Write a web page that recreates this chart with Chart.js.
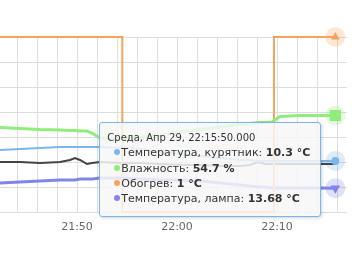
<!DOCTYPE html>
<html>
<head>
<meta charset="utf-8">
<script src="https://cdn.jsdelivr.net/npm/chart.js@4/dist/chart.umd.min.js"></script>
<style>
    html, body { margin: 0; padding: 0; background: #fff; }
    #wrap { position: relative; width: 357px; height: 274px; }
    #tip {
        position: absolute; pointer-events: none; white-space: nowrap;
        background: rgba(247, 247, 247, 0.85); border: 1px solid #7cb5ec; border-radius: 3px;
        box-shadow: 1px 1px 3px rgba(0, 0, 0, 0.18);
        padding: 7px 10px 9px 7px; font-family: 'DejaVu Sans', sans-serif; color: #333;
    }
    #tip .head { font-size: 10px; line-height: 15px; }
    #tip .row { font-size: 11px; line-height: 15.3px; }
    #tip .dot { display: inline-block; width: 6px; height: 6px; border-radius: 50%; margin: 0 1px 0 7px; vertical-align: 1px; }
</style>
</head>
<body>
<div id="wrap">
    <canvas id="grafico" width="357" height="274"></canvas>
    <div id="tip"></div>
</div>
<script>
// Datos
const dateLabel = 'Среда, Апр 29';
const times = ['21:42:10', '21:44:18', '21:46:18', '21:48:18', '21:49:18', '21:49:48', '21:50:18', '21:51:00', '21:51:30',
    '21:52:18', '21:54:30', '21:56:18', '21:58:18', '22:00:18', '22:02:18', '22:04:18', '22:06:18', '22:07:18',
    '22:08:06', '22:08:48', '22:09:30', '22:10:00', '22:10:18', '22:12:18', '22:14:18', '22:15:50'];
const tempCoop = [11.4, 11.5, 11.6, 11.7, 11.7, 11.7, 11.7, 11.7, 11.7, 11.7, 11.6, 11.5, 11.2, 11.0, 10.8, 10.6, 10.4,
    10.4, 10.3, 10.3, 10.3, 10.3, 10.3, 10.3, 10.3, 10.3];
const humidity = [52.3, 52.1, 51.9, 51.8, 51.7, 51.7, 51.6, 51.6, 51.2, 50.2, 50.1, 50.4, 50.8, 51.4, 51.9, 52.4, 52.9,
    53.1, 53.3, 53.3, 53.4, 54.1, 54.5, 54.7, 54.7, 54.7];
const tempLamp = [14.2, 14.3, 14.4, 14.5, 14.5, 14.5, 14.6, 14.6, 14.6, 14.7, 14.7, 14.6, 14.5, 14.5, 14.4, 14.2, 14.0,
    13.9, 13.8, 13.8, 13.7, 13.7, 13.7, 13.7, 13.7, 13.68];
const tempOut = [10.2, 10.2, 10.1, 10.2, 10.4, 10.6, 10.4, 10.0, 10.1, 10.2, 10.1, 10.1, 10.0, 9.9, 9.9, 9.8, 9.8,
    9.9, 10.2, 10.0, 10.0, 10.0, 10.0, 10.0, 10.0, 10.0];
const heatTimes = ['21:42:10', '21:54:32', '22:09:42', '22:15:50'];
const heating = [1, 0, 1, 1];
const xTickLabels = ['21:50', '22:00', '22:10'];

const toMin = t => { const p = t.split(':').map(Number); return p[0] * 60 + p[1] + (p[2] || 0) / 60; };
const pad = n => String(n).padStart(2, '0');
function fmtTime(v, withSec) {
    const s = Math.round(v * 60);
    const txt = pad(Math.floor(s / 3600)) + ':' + pad(Math.floor(s / 60) % 60);
    return withSec ? txt + ':' + pad(s % 60) : txt;
}
const serie = (ts, vals) => vals.map((y, i) => ({ x: toMin(ts[i]), y }));
const lastOnly = r => ctx => ctx.dataIndex === ctx.dataset.data.length - 1 ? r : 0;

const units = ['°C', '%', '°C', '°C', '°C'];

// halo de los puntos activos
const haloPlugin = {
    id: 'halo',
    beforeDatasetsDraw(chart) {
        const ctx = chart.ctx;
        chart.data.datasets.forEach((ds, i) => {
            if (!ds.halo) return;
            const meta = chart.getDatasetMeta(i);
            const pt = meta.data[meta.data.length - 1];
            ctx.save();
            ctx.globalAlpha = 0.25;
            ctx.fillStyle = ds.borderColor;
            ctx.beginPath();
            ctx.arc(pt.x, pt.y, 10, 0, Math.PI * 2);
            ctx.fill();
            ctx.restore();
        });
    }
};

function tooltipHtml(context) {
    const tip = context.tooltip;
    const el = document.getElementById('tip');
    if (!tip.dataPoints || !tip.dataPoints.length) { el.style.opacity = 0; return; }
    const pts = tip.dataPoints;
    el.innerHTML = `<div class="head">${dateLabel}, ${fmtTime(pts[0].parsed.x, true)}.000</div>` +
        pts.map(p => `<div class="row"><span class="dot" style="background:${p.dataset.borderColor}"></span>${p.dataset.label}: <b>${p.raw.y} ${units[p.datasetIndex]}</b></div>`).join('');
    const x = Math.max(...pts.map(p => p.element.x));
    const y = pts.reduce((a, p) => a + p.element.y, 0) / pts.length;
    el.style.opacity = 1;
    el.style.left = (x - 14 - el.offsetWidth) + 'px';
    el.style.top = (y - 3) + 'px';
}

Chart.defaults.font.family = "'DejaVu Sans', sans-serif";
Chart.defaults.font.size = 11;
Chart.defaults.color = '#666';

const hidden = (min, max) => ({ display: false, min, max });

const chart = new Chart(document.getElementById('grafico'), {
    type: 'line',
    data: {
        datasets: [
            { label: 'Температура, курятник', data: serie(times, tempCoop), yAxisID: 'yT', borderColor: '#7cb5ec', backgroundColor: '#7cb5ec',
              borderWidth: 2, pointStyle: 'circle', pointRadius: lastOnly(3), halo: true },
            { label: 'Влажность', data: serie(times, humidity), yAxisID: 'yH', borderColor: '#90ed7d', backgroundColor: '#90ed7d',
              borderWidth: 3, pointStyle: 'rect', pointRadius: lastOnly(5.8), halo: true },
            { label: 'Обогрев', data: serie(heatTimes, heating), yAxisID: 'yO', borderColor: '#f7a35c', backgroundColor: '#f7a35c',
              borderWidth: 2, stepped: 'before', pointStyle: 'triangle', pointRadius: lastOnly(3), halo: true },
            { label: 'Температура, лампа', data: serie(times, tempLamp), yAxisID: 'yL', borderColor: '#8085e9', backgroundColor: '#8085e9',
              borderWidth: 3, pointStyle: 'triangle', pointRotation: 180, pointRadius: lastOnly(2.6), halo: true },
            { label: 'Температура, улица', data: serie(times, tempOut), yAxisID: 'yT', borderColor: '#434348', backgroundColor: '#434348',
              borderWidth: 2, pointRadius: 0 }
        ]
    },
    options: {
        responsive: false,
        animation: false,
        events: [],
        devicePixelRatio: 1,
        layout: { autoPadding: false, padding: { top: 37, right: 10, left: 0, bottom: 0 } },
        elements: { line: { tension: 0 }, point: { borderWidth: 0, hoverRadius: 0 } },
        datasets: { line: { clip: false } },
        plugins: {
            legend: { display: false },
            tooltip: { enabled: false, animation: false, external: tooltipHtml }
        },
        scales: {
            x: {
                type: 'linear', min: toMin('21:42:18'), max: toMin('22:17:00'),
                grid: { color: '#dddddd', drawTicks: true, tickLength: 9, tickColor: 'rgba(0,0,0,0)' },
                border: { display: false },
                ticks: {
                    stepSize: 2, includeBounds: false, autoSkip: false, maxRotation: 0, padding: 0, color: '#666',
                    callback: v => xTickLabels.includes(fmtTime(v)) ? fmtTime(v) : ''
                },
                afterFit: s => { s.height = 62; s.paddingLeft = 0; s.paddingRight = 0; }
            },
            y: {
                min: 0, max: 7,
                grid: { color: '#dddddd', drawTicks: false },
                border: { display: false },
                ticks: { display: false, stepSize: 1 },
                afterFit: s => { s.width = 0; }
            },
            yT: hidden(5.2, 22.7),
            yH: hidden(35.4, 70.4),
            yL: hidden(11.3, 28.8),
            yO: hidden(0, 1)
        }
    },
    plugins: [haloPlugin]
});

// tooltip compartido en el último punto
chart.tooltip.setActiveElements([0, 1, 2, 3].map(i => ({ datasetIndex: i, index: chart.data.datasets[i].data.length - 1 })), { x: 0, y: 0 });
</script>
</body>
</html>
